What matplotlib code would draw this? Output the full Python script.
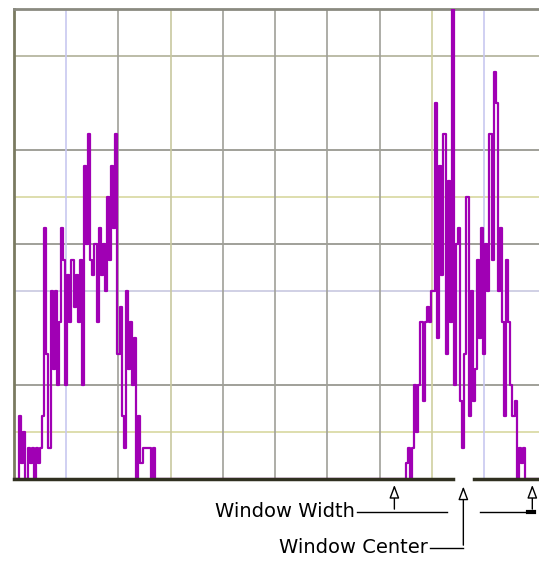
import matplotlib.pyplot as plt
import numpy as np

# histogram counts (one value per intensity bin)
left_start = 3
left_counts = [4, 1, 3, 0, 2, 1, 2, 0, 2, 1, 2, 4, 16, 8, 2, 12, 7, 12, 6, 10,
               16, 14, 6, 13, 10, 14, 11, 13, 10, 14, 6, 20, 15, 22, 14, 13, 15, 10, 16, 13,
               15, 12, 18, 14, 20, 16, 22, 8, 11, 4, 2, 12, 7, 10, 6, 9, 0, 4, 1, 2,
               2, 2, 2, 0, 2]
right_start = 188
right_counts = [1, 2, 0, 2, 6, 3, 6, 10, 5, 10, 11, 10, 12, 12, 24, 9, 20, 13, 22, 8,
                19, 10, 30, 6, 15, 16, 5, 2, 8, 18, 4, 12, 5, 7, 14, 9, 16, 8, 15, 12,
                22, 14, 26, 24, 12, 16, 10, 4, 14, 10, 6, 4, 5, 0, 2, 1, 2]

window_center = 215
window_width = 66

hgrid = [3, 6, 12, 15, 18, 21, 27]
hgrid_col = ['#d8d8a0', '#909088', '#c8c8e0', '#909088', '#d8d8a0', '#909088', '#b0b098']
vgrid = [25, 50, 75, 100, 125, 150, 175, 200, 225]
vgrid_col = ['#c8c8f0', '#a0a098', '#c8c8a0', '#a0a098', '#a0a098', '#a0a098',
             '#a0a098', '#d0d0a0', '#c8c8f0']

bins = np.arange(0, 252)
counts = np.zeros(len(bins))
counts[left_start:left_start + len(left_counts)] = left_counts
counts[right_start:right_start + len(right_counts)] = right_counts

fig = plt.figure(figsize=(5.39, 5.62), dpi=100)
ax = fig.add_axes([14 / 539, 83 / 562, 525 / 539, 470 / 562])
ax.set_xlim(0, 251.2)
ax.set_ylim(0, 30)

for y, c in zip(hgrid, hgrid_col):
    ax.axhline(y, color=c, lw=1.2, zorder=1)
for x, c in zip(vgrid, vgrid_col):
    ax.axvline(x, color=c, lw=1.2, zorder=1)

ax.plot(bins, counts, drawstyle='steps-mid', color='#a000b4', lw=1.6, zorder=3)

for s in ['right', 'bottom']:
    ax.spines[s].set_visible(False)
ax.spines['left'].set_color('#7a7a60')
ax.spines['left'].set_linewidth(2)
ax.spines['top'].set_color('#8a8a80')
ax.spines['top'].set_linewidth(2)
ax.set_xticks([])
ax.set_yticks([])

# baseline with a gap at the window center
ax.plot([0, window_center - 5], [0, 0], color='#303020', lw=2.5, clip_on=False, zorder=4)
ax.plot([window_center + 5, 252], [0, 0], color='#303020', lw=2.5, clip_on=False, zorder=4)

lo = window_center - window_width / 2
hi = window_center + window_width / 2
ya = -2.1
yc = -4.4
arr = dict(arrowstyle='-|>,head_length=0.8,head_width=0.3', fc='white', ec='black', lw=1)
ax.annotate('', xy=(lo, -0.2), xytext=(lo, ya), arrowprops=arr, annotation_clip=False)
ax.annotate('', xy=(window_center, -0.3), xytext=(window_center, yc), arrowprops=arr,
            annotation_clip=False)
ax.annotate('', xy=(hi, -0.2), xytext=(hi, ya), arrowprops=arr, annotation_clip=False)
ax.plot([164, window_center - 8], [ya, ya], color='black', lw=1, clip_on=False)
ax.plot([window_center + 8, hi], [ya, ya], color='black', lw=1, clip_on=False)
ax.plot([hi - 2, hi + 1], [ya, ya], color='black', lw=3, clip_on=False)
ax.plot([199, window_center], [yc, yc], color='black', lw=1, clip_on=False)
ax.text(163, ya, 'Window Width', ha='right', va='center', fontsize=14)
ax.text(198, yc, 'Window Center', ha='right', va='center', fontsize=14)

plt.savefig('out.png')
